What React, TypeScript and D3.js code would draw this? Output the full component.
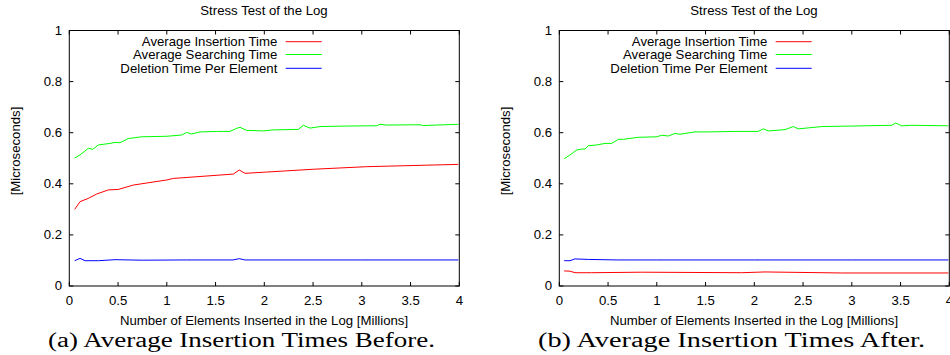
import React from "react";
import * as d3 from "d3";

const xTicks = [0, 0.5, 1, 1.5, 2, 2.5, 3, 3.5, 4];
const yTicks = [0, 0.2, 0.4, 0.6, 0.8, 1];
const seriesNames = ["Average Insertion Time", "Average Searching Time", "Deletion Time Per Element"];
const seriesColors = ["#ff0000", "#00ff00", "#0000ff"];
const chartTitle = "Stress Test of the Log";
const xLabel = "Number of Elements Inserted in the Log [Millions]";
const yLabel = "[Microseconds]";
const captions = ["(a) Average Insertion Times Before.", "(b) Average Insertion Times After."];

// Before
const beforeInsertX = [0.055, 0.11, 0.195, 0.281, 0.4, 0.503, 0.656, 1.0, 1.067, 1.682, 1.743, 1.802, 2.024, 2.2, 2.503, 3.05, 3.99];
const beforeInsertY = [0.3, 0.33, 0.343, 0.36, 0.376, 0.378, 0.395, 0.415, 0.421, 0.438, 0.454, 0.441, 0.446, 0.45, 0.457, 0.467, 0.476];
const beforeSearchX = [0.055, 0.11, 0.195, 0.24, 0.297, 0.417, 0.469, 0.52, 0.605, 0.742, 0.999, 1.153, 1.204, 1.255, 1.341, 1.512, 1.648, 1.717, 1.751, 1.819, 1.99, 2.092, 2.349, 2.4, 2.469, 2.571, 2.845, 3.05, 3.153, 3.187, 3.255, 3.597, 3.631, 3.99];
const beforeSearchY = [0.501, 0.513, 0.539, 0.535, 0.552, 0.558, 0.562, 0.561, 0.577, 0.584, 0.586, 0.591, 0.601, 0.595, 0.603, 0.605, 0.605, 0.617, 0.621, 0.609, 0.607, 0.611, 0.613, 0.629, 0.618, 0.624, 0.626, 0.627, 0.627, 0.633, 0.63, 0.631, 0.628, 0.633];
const beforeDeleteX = [0.055, 0.11, 0.162, 0.3, 0.469, 0.75, 1.2, 1.68, 1.743, 1.8, 2.5, 3.0, 3.99];
const beforeDeleteY = [0.099, 0.108, 0.099, 0.099, 0.103, 0.101, 0.102, 0.102, 0.107, 0.102, 0.102, 0.102, 0.102];

// After
const afterInsertX = [0.05, 0.11, 0.161, 0.332, 0.845, 1.871, 2.11, 2.896, 3.99];
const afterInsertY = [0.059, 0.058, 0.052, 0.052, 0.054, 0.052, 0.055, 0.051, 0.051];
const afterSearchX = [0.051, 0.11, 0.178, 0.23, 0.264, 0.297, 0.383, 0.469, 0.537, 0.605, 0.656, 0.81, 0.999, 1.05, 1.118, 1.187, 1.238, 1.392, 1.528, 1.802, 2.041, 2.092, 2.144, 2.315, 2.4, 2.451, 2.691, 2.999, 3.409, 3.45, 3.512, 3.614, 3.99];
const afterSearchY = [0.498, 0.513, 0.532, 0.536, 0.536, 0.549, 0.552, 0.558, 0.558, 0.574, 0.574, 0.582, 0.584, 0.59, 0.587, 0.597, 0.594, 0.603, 0.603, 0.605, 0.605, 0.615, 0.607, 0.612, 0.624, 0.615, 0.624, 0.626, 0.629, 0.638, 0.627, 0.629, 0.627];
const afterDeleteX = [0.05, 0.11, 0.16, 0.3, 0.6, 1.0, 2.0, 3.0, 3.99];
const afterDeleteY = [0.099, 0.099, 0.106, 0.104, 0.102, 0.102, 0.102, 0.102, 0.102];

const charts = [
  { caption: captions[0], series: [[beforeInsertX, beforeInsertY], [beforeSearchX, beforeSearchY], [beforeDeleteX, beforeDeleteY]] },
  { caption: captions[1], series: [[afterInsertX, afterInsertY], [afterSearchX, afterSearchY], [afterDeleteX, afterDeleteY]] },
];

const FONT = "'Liberation Sans', Arial, Helvetica, sans-serif";
const SERIF = "'Liberation Serif', 'Times New Roman', serif";
const FS = 12;
const SX = 1.1;

function T({ x, y, anchor, children }: { x: number; y: number; anchor: string; children: any }) {
  return (
    <text transform={`translate(${x},${y}) scale(${SX},1)`} fontFamily={FONT} fontSize={FS} textAnchor={anchor}>
      {children}
    </text>
  );
}

function Chart({ offset, chart }: { offset: number; chart: any }) {
  const x = d3.scaleLinear().domain([0, 4]).range([69.3, 459.3]);
  const y = d3.scaleLinear().domain([0, 1]).range([286, 30.5]);
  const line = d3.line<[number, number]>().x((d) => x(d[0])).y((d) => y(d[1]));
  const tl = 4;
  const [x0, x1] = x.range();
  const [y0, y1] = y.range();
  return (
    <g transform={`translate(${offset},0)`}>
      <T x={264} y={15} anchor="middle">{chartTitle}</T>
      {chart.series.map((s: number[][], i: number) => (
        <path key={i} d={line(d3.zip(s[0], s[1]) as any) || ""} fill="none" stroke={seriesColors[i]} strokeWidth={1} />
      ))}
      {xTicks.map((t) => (
        <g key={"x" + t}>
          <line x1={x(t)} x2={x(t)} y1={y0} y2={y0 - tl} stroke="#000" />
          <line x1={x(t)} x2={x(t)} y1={y1} y2={y1 + tl} stroke="#000" />
          <T x={x(t)} y={304.8} anchor="middle">{String(t)}</T>
        </g>
      ))}
      {yTicks.map((t) => (
        <g key={"y" + t}>
          <line x1={x0} x2={x0 + tl} y1={y(t)} y2={y(t)} stroke="#000" />
          <line x1={x1} x2={x1 - tl} y1={y(t)} y2={y(t)} stroke="#000" />
          <T x={62} y={y(t) + 4.3} anchor="end">{String(t)}</T>
        </g>
      ))}
      <rect x={x0} y={y1} width={x1 - x0} height={y0 - y1} fill="none" stroke="#000" strokeWidth={1} />
      {seriesNames.map((n, i) => {
        const ly = [41.7, 54.5, 68.3][i];
        return (
          <g key={n}>
            <T x={277.3} y={ly + 4.3} anchor="end">{n}</T>
            <line x1={285.7} x2={321.7} y1={ly} y2={ly} stroke={seriesColors[i]} strokeWidth={1} />
          </g>
        );
      })}
      <T x={264} y={324.5} anchor="middle">{xLabel}</T>
      <text transform={`translate(19.5,151) rotate(-90)`} fontFamily={FONT} fontSize={13.2} textAnchor="middle">{yLabel}</text>
      <text x={241.5} y={346.5} fontFamily={SERIF} fontSize={20} textAnchor="middle" textLength={387} lengthAdjust="spacingAndGlyphs">{chart.caption}</text>
    </g>
  );
}

export default function App() {
  return (
    <svg width={950} height={355} style={{ position: "absolute", left: 0, top: 0, background: "#fff" }}>
      <rect x={0} y={0} width={950} height={355} fill="#fff" />
      {charts.map((c, i) => (
        <Chart key={i} offset={i * 490} chart={c} />
      ))}
    </svg>
  );
}
